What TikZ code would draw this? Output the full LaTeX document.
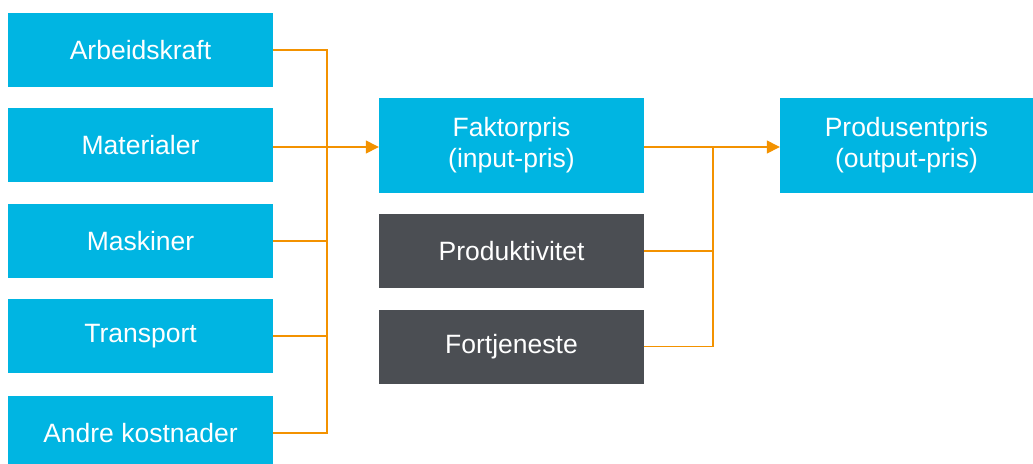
\documentclass[tikz,border=0pt]{standalone}
\usepackage{fontspec}
\setmainfont{Liberation Sans}
\usetikzlibrary{arrows.meta}
\definecolor{boxblue}{HTML}{00B5E2}
\definecolor{boxgrey}{HTML}{4B4E53}
\definecolor{linkorange}{HTML}{F39200}
\begin{document}
\begin{tikzpicture}[x=1pt, y=-1pt,
    cost/.style={fill=boxblue, text=white, inner sep=0pt, minimum
      width=265pt, minimum height=74pt, align=center,
      font=\fontsize{26.5}{31}\selectfont},
    other/.style={cost, fill=boxgrey}]
    \useasboundingbox (0,0) rectangle (1033,463);
    \begin{scope}[every node/.style={cost}]
      \node (arb) at (140.5,50) {Arbeidskraft}; \node (mat) at
      (140.5,145) {Materialer}; \node (mas) at (140.5,241)
      {Maskiner}; \node (tra) at (140.5,336) {Transport};
      \node (and) at (140.5,433) {Andre kostnader};
      \node [minimum height=95pt] (fak) at (511.5,145.5)
      {Faktorpris\\(input-pris)};
      \node [minimum height=95pt, minimum width=253pt] (pro) at
      (906.5,145.5) {Produsentpris\\(output-pris)};
    \end{scope}
    \node [other] (kty) at (511.5,251) {Produktivitet}; \node [other]
    (fje) at (511.5,346.5) {Fortjeneste};
    \coordinate (jl) at (327,147); \coordinate (jr) at (713,147);
    \begin{scope}[linkorange, line width=1.4pt]
      \draw (arb.east) -| (jl); \draw (mas.east) -| (jl); \draw
      (tra.east) -| (jl); \draw (and.east) -| (jl); \draw
      [-{Triangle[length=13pt, width=13pt]}] (mat.east |- jl) to
      (fak.west |- jl); \draw (kty.east) -| (jr); \draw (fje.east) -|
      (jr); \draw [-{Triangle[length=13pt, width=13pt]}] (fak.east |-
      jr) to (pro.west |- jr);
    \end{scope}
  \end{tikzpicture}
\end{document}
